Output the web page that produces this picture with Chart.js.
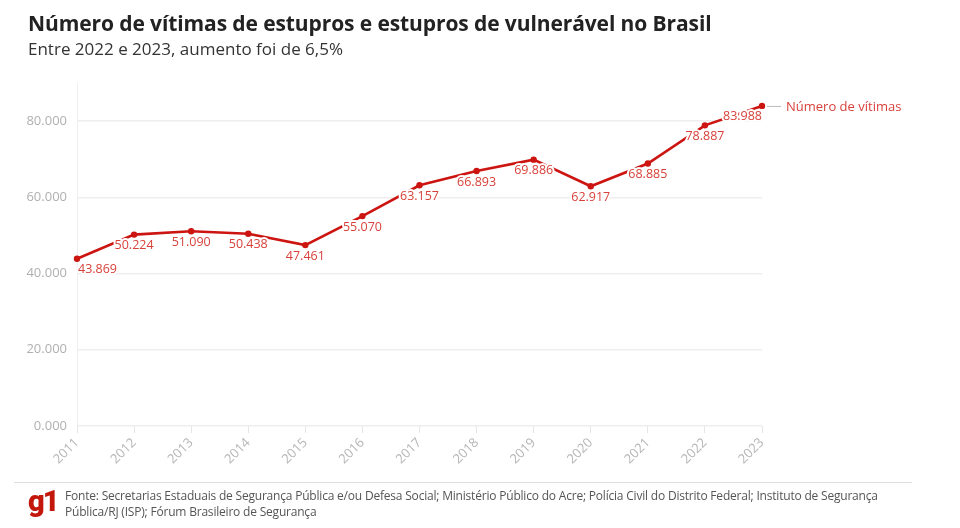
<!DOCTYPE html>
<html><head><meta charset="utf-8">
<script src="https://cdn.jsdelivr.net/npm/chart.js@4"></script>
<style>
html,body{margin:0;padding:0;background:#fff;width:960px;height:528px;overflow:hidden;font-family:"Open Sans",sans-serif;}
#wrap{position:absolute;left:0;top:0;width:960px;height:528px;}
#title{position:absolute;left:28px;top:9px;font-size:21px;font-weight:700;color:#222;white-space:nowrap;letter-spacing:-0.1px}
#sub{position:absolute;left:28px;top:37px;font-size:17px;color:#333;white-space:nowrap}
#rule{position:absolute;left:14px;top:482px;width:898px;height:1px;background:#ddd}
#logo{position:absolute;left:28px;top:484px;font-size:29px;font-weight:900;color:#c4170c;letter-spacing:-2px;line-height:34px;font-family:Roboto,sans-serif}
#src{position:absolute;left:65px;top:488px;width:840px;font-size:12px;line-height:16px;color:#555;letter-spacing:-0.2px}
</style></head>
<body><div id="wrap">
<canvas id="c" width="960" height="528" style="position:absolute;left:0;top:0"></canvas>
<div id="title">Número de vítimas de estupros e estupros de vulnerável no Brasil</div>
<div id="sub">Entre 2022 e 2023, aumento foi de 6,5%</div>
<div id="rule"></div>
<div id="logo">g1</div>
<div id="src">Fonte: Secretarias Estaduais de Segurança Pública e/ou Defesa Social; Ministério Público do Acre; Polícia Civil do Distrito Federal; Instituto de Segurança Pública/RJ (ISP); Fórum Brasileiro de Segurança</div>
</div>
<script>
const years = ["2011","2012","2013","2014","2015","2016","2017","2018","2019","2020","2021","2022","2023"];
const victims = [43869,50224,51090,50438,47461,55070,63157,66893,69886,62917,68885,78887,83988];
const seriesName = "Número de vítimas";
const yTicks = [0,20000,40000,60000,80000];

const fmt = v => (v/1000).toFixed(3);
const LINE = '#cc1410';
const LABEL = '#d8413a';

const labelPlugin = {
  id:'labels',
  afterDatasetsDraw(chart){
    const ctx = chart.ctx;
    const meta = chart.getDatasetMeta(0);
    ctx.save();
    ctx.font = '12.5px "Open Sans"';
    ctx.textBaseline = 'middle';
    meta.data.forEach((p,i)=>{
      const t = fmt(victims[i]);
      let align='center', x=p.x;
      if(i===0){align='left'; x=p.x+1;}
      if(i===meta.data.length-1){align='right'; x=p.x;}
      ctx.textAlign = align;
      ctx.lineWidth = 4; ctx.strokeStyle='#fff'; ctx.lineJoin='round';
      ctx.strokeText(t,x,p.y+11);
      ctx.fillStyle = LABEL;
      ctx.fillText(t,x,p.y+11);
    });
    const last = meta.data[meta.data.length-1];
    ctx.strokeStyle='#bbb'; ctx.lineWidth=1;
    ctx.beginPath(); ctx.moveTo(last.x+5,last.y+0.5); ctx.lineTo(last.x+19,last.y+0.5); ctx.stroke();
    ctx.font='13px "Open Sans"'; ctx.textAlign='left'; ctx.fillStyle=LABEL;
    ctx.fillText(seriesName,last.x+24,last.y+1);
    ctx.restore();
  }
};

new Chart(document.getElementById('c'),{
  type:'line',
  data:{labels:years,datasets:[{label:seriesName,data:victims,borderColor:LINE,backgroundColor:LINE,borderWidth:2.6,pointRadius:3.2,pointBackgroundColor:LINE,pointBorderWidth:0,tension:0}]},
  options:{
    responsive:false,animation:false,
    layout:{padding:{left:0,right:198,top:83,bottom:0}},
    plugins:{legend:{display:false},tooltip:{enabled:false}},
    scales:{
      x:{
        offset:false,
        grid:{display:true,drawOnChartArea:true,color:(c)=>c.index===0?'#eee':'rgba(0,0,0,0)',tickLength:7,tickColor:'#e6e6e6',lineWidth:1},
        border:{display:false},
        ticks:{minRotation:45,maxRotation:45,color:'#b5b5b5',font:{family:'Open Sans',size:13},padding:2,autoSkip:false},
        afterFit(s){s.height=102;}
      },
      y:{
        min:0,max:90000,
        afterBuildTicks(s){s.ticks=yTicks.map(v=>({value:v}));},
        grid:{color:'#eeeeee',drawTicks:false,lineWidth:1.5},
        border:{display:false},
        ticks:{color:'#b0b0b0',font:{family:'Open Sans',size:13},padding:10,callback:v=>fmt(v)},
        afterFit(s){s.width=77;}
      }
    }
  },
  plugins:[labelPlugin]
});
</script>
</body></html>
